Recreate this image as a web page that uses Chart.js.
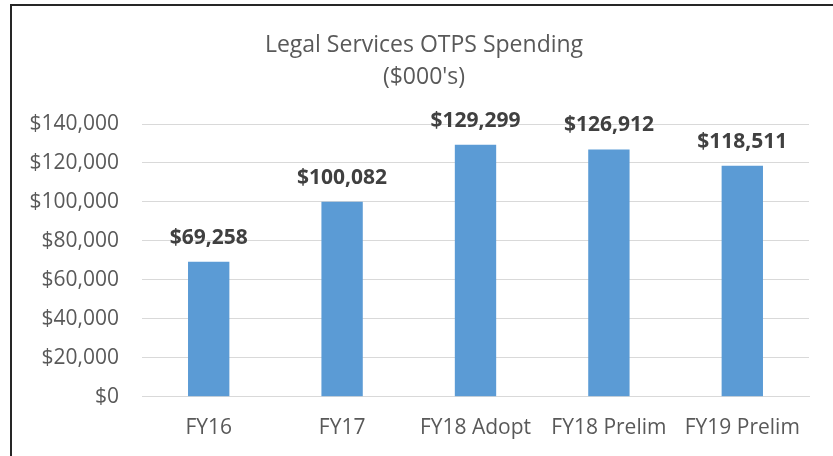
<!DOCTYPE html>
<html>
<head>
<meta charset="utf-8">
<script src="https://cdn.jsdelivr.net/npm/chart.js@4.4.0/dist/chart.umd.min.js"></script>
<style>
  body { margin: 0; background: #fff; }
  #wrap { position: relative; width: 833px; height: 456px; overflow: hidden; }
  #frame { position: absolute; left: 10px; top: 4px; width: 900px; height: 500px;
           border-left: 2px solid #262626; border-top: 2px solid #262626; pointer-events: none; }
</style>
</head>
<body>
<div id="wrap">
  <canvas id="spendChart"></canvas>
  <div id="frame"></div>
</div>
<script>
// data
const categories = ['FY16', 'FY17', 'FY18 Adopt', 'FY18 Prelim', 'FY19 Prelim'];
const spending = [69258, 100082, 129299, 126912, 118511];
const titleLines = ['Legal Services OTPS Spending', "($000's)"];

const fontFamily = "'Open Sans', sans-serif";

// title is centred on the frame, not on the canvas, so draw it by hand
const frameTitle = {
    id: 'frameTitle',
    afterDraw(chart) {
        const ctx = chart.ctx;
        ctx.save();
        ctx.font = '23px ' + fontFamily;
        ctx.fillStyle = '#595959';
        ctx.textAlign = 'center';
        ctx.textBaseline = 'middle';
        titleLines.forEach(function (line, i) {
            ctx.fillText(line, 424, 45 + i * 32);
        });
        ctx.restore();
    }
};

// draws the bold value labels above each bar
const valueLabels = {
    id: 'valueLabels',
    afterDatasetsDraw(chart) {
        const ctx = chart.ctx;
        const meta = chart.getDatasetMeta(0);
        ctx.save();
        ctx.font = 'bold 21px ' + fontFamily;
        ctx.fillStyle = '#404040';
        ctx.textAlign = 'center';
        ctx.textBaseline = 'middle';
        meta.data.forEach(function (bar, i) {
            ctx.fillText('$' + spending[i].toLocaleString('en-US'), bar.x, bar.y - 24);
        });
        ctx.restore();
    }
};

document.addEventListener('DOMContentLoaded', function () {
    const canvas = document.getElementById('spendChart');
    if (!canvas) {
        console.error('Canvas element not found');
        return;
    }

    new Chart(canvas.getContext('2d'), {
        type: 'bar',
        data: {
            labels: categories,
            datasets: [{
                data: spending,
                backgroundColor: '#5B9BD5',
                borderWidth: 0,
                categoryPercentage: 1,
                barPercentage: 0.31
            }]
        },
        options: {
            responsive: true,
            maintainAspectRatio: false,
            animation: false,
            layout: {
                padding: { top: 124, left: 12, right: 24, bottom: -4 }
            },
            plugins: {
                legend: { display: false },
                tooltip: { enabled: false },
                title: { display: false }
            },
            scales: {
                x: {
                    grid: { display: false, drawTicks: false },
                    border: { color: '#d9d9d9', width: 1 },
                    ticks: {
                        color: '#595959',
                        padding: 19,
                        maxRotation: 0,
                        font: { family: fontFamily, size: 21 }
                    }
                },
                y: {
                    min: 0,
                    max: 140000,
                    afterFit: function (scale) { scale.width = 130; },
                    grid: { color: '#d9d9d9', lineWidth: 1, drawTicks: false },
                    border: { display: false },
                    ticks: {
                        stepSize: 20000,
                        color: '#595959',
                        padding: 23,
                        font: { family: fontFamily, size: 21 },
                        callback: function (v) { return '$' + v.toLocaleString('en-US'); }
                    }
                }
            }
        },
        plugins: [valueLabels, frameTitle]
    });
});
</script>
</body>
</html>
